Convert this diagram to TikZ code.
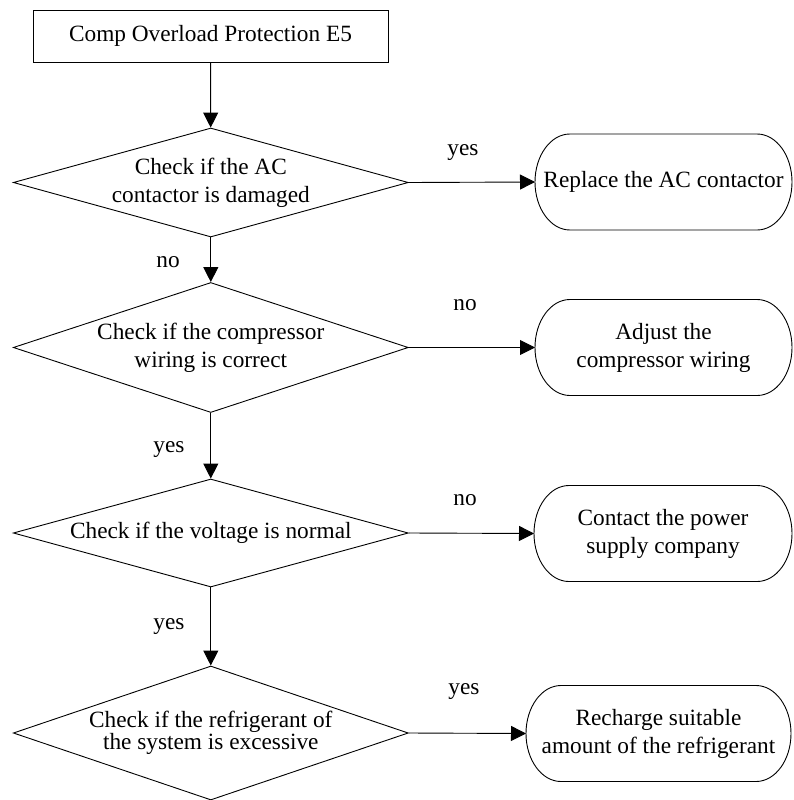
\documentclass[tikz,border=0pt]{standalone}
\usepackage{fontspec}
\setmainfont{Liberation Serif}
\usetikzlibrary{shapes.geometric,arrows.meta}
\begin{document}
\begin{tikzpicture}[x=1pt,y=-1pt,
  txt/.style={font=\fontsize{23.3}{28}\selectfont},
  line/.style={line width=0.9pt},
  arr/.style={line, -{Triangle[length=15pt,width=15pt]}},
  startbox/.style={txt, draw, line width=0.9pt, minimum width=355pt, minimum height=52pt, inner sep=0pt},
  decision/.style={txt, draw, line width=0.9pt, diamond, minimum width=395pt, inner sep=0pt, align=center},
  action/.style={txt, minimum height=96pt, inner sep=0pt, outer sep=0pt, align=center},
  lbl/.style={txt, inner sep=0pt}
]
\useasboundingbox (0,0) rectangle (793,800);

% start
\node[startbox] (start) at (210.5,36) {Comp Overload Protection E5};

% decisions
\node[decision, minimum height=109pt, shape aspect=3.6] (d1) at (210.8,182.5)
  {Check if the AC\\contactor is damaged};
\node[decision, minimum height=130pt, shape aspect=3.0] (d2) at (210.8,347.5)
  {Check if the compressor\\wiring is correct};
\node[decision, minimum height=108pt, shape aspect=3.6] (d3) at (210.8,533)
  {Check if the voltage is normal};
\node[decision, minimum height=134pt, shape aspect=2.9,
      font=\fontsize{23.3}{20.5}\selectfont] (d4) at (210.8,733)
  {Check if the refrigerant of\\the system is excessive};

% actions
\node[action, minimum width=257pt] (r1) at (663.5,182)   {Replace the AC contactor};
\node[action, minimum width=257pt] (r2) at (663.5,347.5) {Adjust the\\compressor wiring};
\node[action, minimum width=258pt] (r3) at (663,533.5)   {Contact the power\\supply company};
\node[action, minimum width=265pt] (r4) at (658.5,733.5) {Recharge suitable\\amount of the refrigerant};

% capsule outlines with elliptical ends
\foreach \n in {r1,r2,r3,r4}
  \draw[line] ([xshift=35pt]\n.north west) -- ([xshift=-35pt]\n.north east)
    arc[start angle=90,end angle=-90,x radius=35pt,y radius=48pt]
    -- ([xshift=35pt]\n.south west)
    arc[start angle=270,end angle=90,x radius=35pt,y radius=48pt] -- cycle;

% vertical flow
\draw[arr] (start) -- (d1);
\draw[arr] (d1) -- (d2);
\draw[arr] (d2) -- (d3);
\draw[arr] (d3) -- (d4);

% side branches
\draw[arr] (d1.east) -- (r1.west);
\draw[arr] (d2.east) -- (r2.west);
\draw[arr] (d3.east) -- (r3.west);
\draw[arr] (d4.east) -- (r4.west);

% branch labels
\node[lbl] (l1) at (463,153) {yes};
\node[lbl] (l2) at (168,262) {no};
\node[lbl] (l3) at (465,305) {no};
\node[lbl] (l4) at (169,450) {yes};
\node[lbl] (l5) at (465,500) {no};
\node[lbl] (l6) at (169,627) {yes};
\node[lbl] (l7) at (464,692) {yes};
\end{tikzpicture}
\end{document}
